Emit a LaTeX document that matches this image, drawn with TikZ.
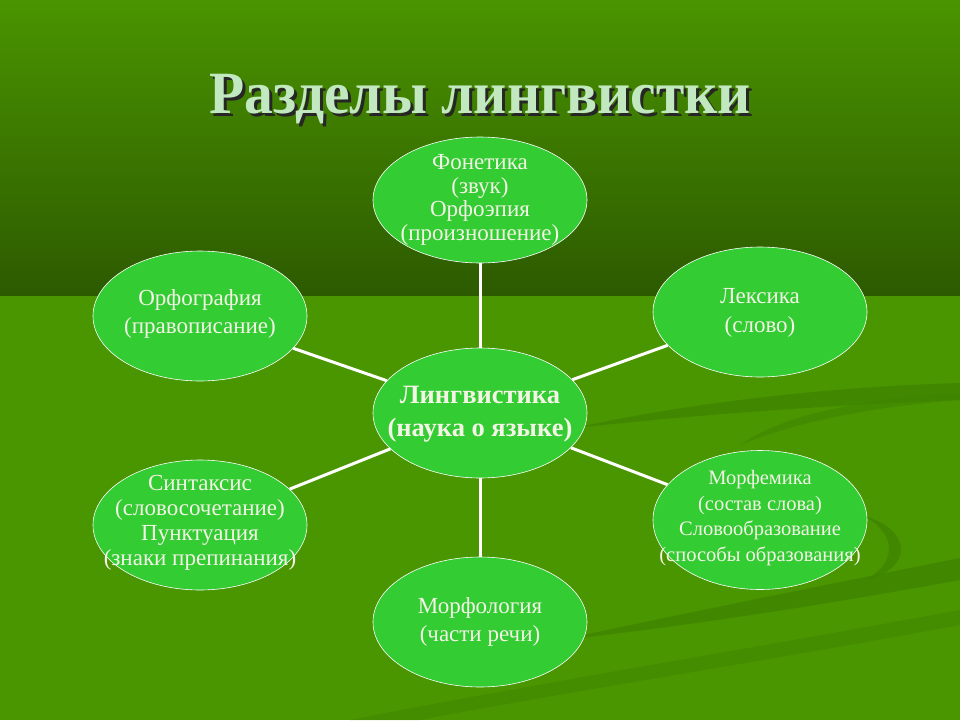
\documentclass[tikz,border=0pt]{standalone}
\usepackage{fontspec}
\setmainfont{Liberation Serif}
\usetikzlibrary{shapes.geometric}
\definecolor{bgtop}{HTML}{4A9400}
\definecolor{bgmid}{HTML}{2D5A00}
\definecolor{bglow}{HTML}{4A9600}
\definecolor{swoosh}{HTML}{3F8400}
\definecolor{bubble}{HTML}{33CC33}
\definecolor{titlecol}{HTML}{C2E8C0}
\definecolor{txtcol}{HTML}{F4F4E6}
\newcommand{\ttltext}{\scalebox{0.96}[1]{Разделы лингвистки}}
\tikzset{
  bub/.style={ellipse, draw=white, line width=0.6pt, fill=bubble, minimum width=214pt, minimum height=130pt, inner sep=0pt},
  txt/.style={align=center, text=txtcol, inner sep=0pt, font=\fontsize{23}{23.5}\selectfont},
  conn/.style={draw=white, line width=3pt},
  ttl/.style={anchor=base, font=\bfseries\fontsize{60}{60}\selectfont, inner sep=0pt}
}
\begin{document}
\begin{tikzpicture}[x=1pt,y=-1pt]
\useasboundingbox (0,0) rectangle (960,720);
% background
\fill[bglow] (0,295) rectangle (960,720);
\shade[top color=bgtop, bottom color=bgmid] (0,0) rectangle (960,295);
% swooshes
\fill[swoosh, opacity=0.8] (575,428) .. controls (700,400) and (850,386) .. (960,383) -- (960,400) .. controls (850,404) and (700,414) .. (575,428) -- cycle;
\fill[swoosh, opacity=0.6] (740,445) .. controls (790,410) and (880,398) .. (960,393) -- (960,400) .. controls (880,406) and (800,420) .. (740,445) -- cycle;
\fill[swoosh, opacity=0.8] (560,640) .. controls (700,610) and (850,580) .. (960,558) -- (960,580) .. controls (850,600) and (700,625) .. (560,640) -- cycle;
\fill[swoosh, opacity=0.8] (862,515) .. controls (915,530) and (912,570) .. (865,580) .. controls (895,565) and (900,535) .. (862,515) -- cycle;
\fill[swoosh, opacity=0.5] (350,720) .. controls (500,690) and (800,640) .. (960,610) -- (960,625) .. controls (800,655) and (520,700) .. (420,720) -- cycle;
% title with shadow
\node[ttl, text=titlecol] (title) at (480,113) {\rlap{\hspace{3pt}\raisebox{-3pt}{\color{black!85}\ttltext}}\ttltext};
% bubbles
\node[bub] (center) at (480,413) {};
\node[bub, minimum height=126pt] (fon) at (480,200) {};
\node[bub] (orf) at (200,316) {};
\node[bub] (lex) at (760,312) {};
\node[bub] (syn) at (200,525) {};
\node[bub, minimum height=139pt] (mfm) at (760,520) {};
\node[bub] (mrf) at (480,622) {};
% connectors
\draw[conn] (center) -- (fon);
\draw[conn] (center) -- (orf);
\draw[conn] (center) -- (lex);
\draw[conn] (center) -- (syn);
\draw[conn] (center) -- (mfm);
\draw[conn] (center) -- (mrf);
% texts
\node[txt, font=\bfseries\fontsize{26.5}{33}\selectfont] (center-t) at (480,414) {Лингвистика\\(наука о языке)};
\node[txt] (fon-t) at (480,200) {Фонетика\\(звук)\\Орфоэпия\\(произношение)};
\node[txt, font=\fontsize{23}{28}\selectfont] (orf-t) at (200,314) {Орфография\\(правописание)};
\node[txt, font=\fontsize{23}{29}\selectfont] (lex-t) at (760,313) {Лексика\\(слово)};
\node[txt, font=\fontsize{23}{25}\selectfont] (syn-t) at (200,523) {Синтаксис\\(словосочетание)\\Пунктуация\\(знаки препинания)};
\node[txt, font=\fontsize{20.5}{25.5}\selectfont] (mfm-t) at (760,518) {Морфемика\\(состав слова)\\Словообразование\\(способы образования)};
\node[txt, font=\fontsize{23}{28}\selectfont] (mrf-t) at (480,622) {Морфология\\(части речи)};
\end{tikzpicture}
\end{document}
